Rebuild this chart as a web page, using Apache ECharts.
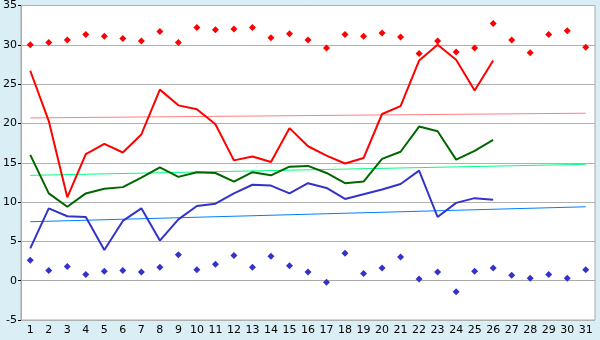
<!DOCTYPE html>
<html>
<head>
<meta charset="utf-8">
<script src="https://cdn.jsdelivr.net/npm/echarts@6/dist/echarts.min.js"></script>
<style>
html,body{margin:0;padding:0;background:#daeef5;}
#chart{width:600px;height:340px;}
</style>
</head>
<body>
<div id="chart"></div>
<script>
var days = [];
for (var d = 1; d <= 31; d++) days.push(String(d));

// daily values
var maxTemp = [26.7, 20.3, 10.6, 16.1, 17.4, 16.3, 18.6, 24.3, 22.3, 21.8, 19.9, 15.3, 15.8, 15.1, 19.4,
  17.1, 15.9, 14.9, 15.6, 21.2, 22.2, 28.0, 30.0, 28.1, 24.2, 28.0];
var avgTemp = [16.0, 11.1, 9.4, 11.1, 11.7, 11.9, 13.1, 14.4, 13.2, 13.8, 13.7, 12.6, 13.8, 13.4, 14.5,
  14.6, 13.7, 12.4, 12.6, 15.5, 16.4, 19.6, 19.0, 15.4, 16.5, 17.9];
var minTemp = [4.1, 9.2, 8.2, 8.1, 3.9, 7.6, 9.2, 5.1, 7.8, 9.5, 9.8, 11.1, 12.2, 12.1, 11.1,
  12.4, 11.8, 10.4, 11.0, 11.6, 12.3, 14.0, 8.1, 9.9, 10.5, 10.3];
var recordHigh = [30.0, 30.3, 30.6, 31.3, 31.1, 30.8, 30.5, 31.7, 30.3, 32.2, 31.9, 32.0, 32.2, 30.9, 31.4,
  30.6, 29.6, 31.3, 31.1, 31.5, 31.0, 28.9, 30.5, 29.1, 29.6, 32.7, 30.6, 29.0, 31.3, 31.8, 29.7];
var recordLow = [2.6, 1.3, 1.8, 0.8, 1.2, 1.3, 1.1, 1.7, 3.3, 1.4, 2.1, 3.2, 1.7, 3.1, 1.9,
  1.1, -0.2, 3.5, 0.9, 1.6, 3.0, 0.2, 1.1, -1.4, 1.2, 1.6, 0.7, 0.3, 0.8, 0.3, 1.4];
// trend lines: value at day 1 and at day 31
var maxTrend = [20.7, 21.3];
var avgTrend = [13.4, 14.8];
var minTrend = [7.5, 9.4];

function trend(t) {
  return [[days[0], t[0]], [days[days.length - 1], t[1]]];
}

var chart = echarts.init(document.getElementById('chart'));
var option = {
  animation: false,
  backgroundColor: '#daeef5',
  textStyle: {fontFamily: 'DejaVu Sans'},
  grid: {
    left: 20, right: 5, top: 5, bottom: 20,
    show: true, backgroundColor: '#fff', borderColor: '#aaa', borderWidth: 1
  },
  xAxis: {
    type: 'category',
    data: days,
    boundaryGap: true,
    axisLine: {lineStyle: {color: '#aaa'}},
    axisTick: {alignWithLabel: true, length: 5, lineStyle: {color: '#000'}},
    axisLabel: {color: '#000', fontSize: 11, margin: 5, interval: 0},
    splitLine: {show: false}
  },
  yAxis: {
    type: 'value',
    min: -5, max: 35, interval: 5,
    axisLine: {show: true, lineStyle: {color: '#aaa'}},
    axisTick: {show: true, length: 3, lineStyle: {color: '#000'}},
    axisLabel: {color: '#000', fontSize: 11, margin: 4},
    splitLine: {lineStyle: {color: '#b0b0b0'}}
  },
  series: [
    {type: 'line', data: trend(maxTrend), symbol: 'none', lineStyle: {color: '#ff8080', width: 1}},
    {type: 'line', data: trend(avgTrend), symbol: 'none', lineStyle: {color: '#00ff80', width: 1}},
    {type: 'line', data: trend(minTrend), symbol: 'none', lineStyle: {color: '#0080ff', width: 1}},
    {type: 'line', data: maxTemp, symbol: 'none', lineStyle: {color: '#ff0000', width: 2}},
    {type: 'line', data: avgTemp, symbol: 'none', lineStyle: {color: '#006600', width: 2}},
    {type: 'line', data: minTemp, symbol: 'none', lineStyle: {color: '#3333cc', width: 2}},
    {type: 'scatter', data: recordHigh, symbol: 'diamond', symbolSize: 7, itemStyle: {color: '#ff0000', opacity: 1}},
    {type: 'scatter', data: recordLow, symbol: 'diamond', symbolSize: 7, itemStyle: {color: '#3333cc', opacity: 1}}
  ]
};
chart.setOption(option);
</script>
</body>
</html>
